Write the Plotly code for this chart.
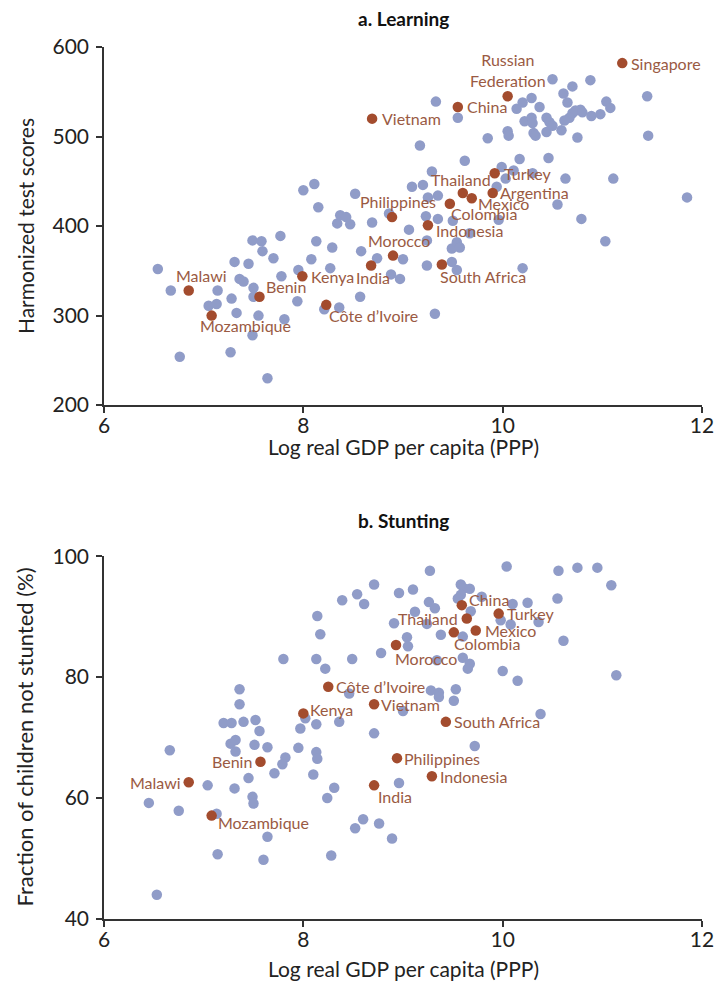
import plotly.graph_objects as go

# ---------------- Data: panel a (Learning) ----------------
learn_gray_x = [6.54, 6.67, 6.76, 7.05, 7.13, 7.14, 7.27, 7.28, 7.31, 7.33,
                7.36, 7.40, 7.45, 7.49, 7.49, 7.58, 7.50, 7.50, 7.55, 7.59,
                7.64, 7.70, 7.77, 7.78, 7.81, 7.94, 7.95, 8.00, 8.11, 8.08,
                8.13, 8.15, 8.21, 8.36, 8.27, 8.29, 8.34, 8.37, 8.43, 8.47,
                8.52, 8.57, 8.58, 8.69, 8.74, 8.86, 8.88, 8.97, 9.00,
                9.06, 9.23, 9.35, 9.24, 9.24, 9.32, 9.49, 9.54, 9.57, 9.49,
                9.54, 9.67, 9.96, 10.20, 10.55, 10.79, 11.03,
                9.09, 9.20, 9.25, 9.35, 9.29, 9.17, 9.33, 9.55, 9.62, 9.85,
                10.05, 10.06, 10.17, 10.46, 10.63, 11.11, 10.75, 10.31, 10.33, 10.44,
                10.59, 10.14, 10.20, 10.29, 10.37, 10.22, 10.29, 10.30, 10.44, 10.47,
                10.50, 10.50, 10.70, 10.88, 10.61, 10.65, 10.73, 10.78, 10.70, 10.67,
                10.62, 10.80, 10.89, 10.98, 11.04, 11.08, 11.45, 11.46, 11.85, 9.99,
                10.11, 10.03, 10.30, 9.94, 9.50]
learn_gray_y = [352, 328, 254, 311, 313, 328, 259, 319, 360, 303,
                341, 338, 358, 278, 384, 383, 321, 331, 300, 372,
                230, 364, 389, 344, 296, 316, 351, 440, 447, 363,
                383, 421, 307, 309, 353, 376, 403, 412, 410, 402,
                436, 321, 372, 404, 364, 414, 346, 341, 363,
                396, 411, 408, 384, 356, 302, 375, 382, 376, 360,
                351, 392, 407, 353, 424, 408, 383,
                444, 446, 432, 434, 461, 490, 539, 521, 473, 498,
                506, 501, 475, 476, 453, 453, 499, 504, 501, 505,
                507, 531, 538, 543, 533, 517, 521, 515, 521, 516,
                512, 564, 556, 563, 548, 538, 529, 530, 526, 521,
                518, 527, 523, 525, 539, 532, 545, 501, 432, 466,
                462, 453, 459, 444, 406]

learn_names = ["Singapore", "Russian<br>Federation", "China", "Vietnam", "Turkey",
               "Thailand", "Argentina", "Mexico", "Colombia", "Philippines",
               "Indonesia", "Morocco", "India", "South Africa", "Kenya",
               "Malawi", "Benin", "Mozambique", "Côte d’Ivoire"]
learn_x = [11.20, 10.05, 9.55, 8.69, 9.92, 9.60, 9.90, 9.69, 9.47, 8.89,
           9.25, 8.90, 8.68, 9.39, 7.99, 6.85, 7.56, 7.08, 8.23]
learn_y = [582, 545, 533, 520, 459, 437, 437, 431, 425, 410,
           401, 367, 356, 357, 344, 328, 321, 300, 312]

# ---------------- Data: panel b (Stunting) ----------------
stunt_gray_x = [7.36, 7.36, 7.20, 7.28, 7.40, 7.52, 7.56, 8.02, 8.13, 7.97,
                8.36, 8.71, 6.66, 7.27, 7.32, 7.32, 7.51, 7.64, 7.95, 8.13,
                8.14, 7.82, 7.79, 7.71, 8.10, 7.45, 7.04, 7.31, 7.49, 7.50,
                8.31, 8.24, 8.96, 6.45, 6.75, 7.13, 8.60, 8.52, 8.76, 8.89,
                7.64, 7.14, 7.60, 8.28, 6.53, 10.38, 9.72, 9.00,
                8.71, 8.39, 8.54, 8.61, 8.96, 8.14, 8.17, 8.91, 7.80, 8.13,
                8.22, 8.49, 8.78, 8.46,
                9.27, 10.04, 10.56, 10.75, 10.95, 11.09, 10.55, 9.10, 9.26, 9.32,
                9.12, 9.58, 9.61, 9.67, 9.58, 9.55, 9.79, 9.68, 10.10, 10.25,
                10.36, 9.98, 10.08, 9.24, 9.38, 9.60, 10.61, 9.04, 9.05, 9.34,
                9.60, 9.67, 9.65, 10.00, 10.15, 11.14, 9.28, 9.36, 9.36, 9.53,
                9.51]
stunt_gray_y = [78.0, 75.5, 72.4, 72.4, 72.6, 72.9, 71.1, 73.2, 72.2, 71.5,
                72.6, 70.7, 67.9, 69.0, 69.6, 67.7, 68.8, 68.4, 68.3, 67.6,
                66.5, 66.7, 65.6, 64.1, 63.9, 63.3, 62.1, 61.6, 60.2, 59.1,
                61.7, 60.0, 62.5, 59.2, 57.9, 57.4, 56.5, 55.0, 55.8, 53.3,
                53.6, 50.7, 49.8, 50.5, 44.0, 73.9, 68.6, 74.4,
                95.3, 92.7, 93.7, 92.1, 93.9, 90.1, 87.1, 88.9, 83.0, 83.0,
                81.4, 83.0, 84.0, 77.3,
                97.6, 98.3, 97.6, 98.1, 98.1, 95.2, 93.0, 94.5, 92.4, 91.4,
                90.8, 95.3, 94.7, 94.6, 93.6, 93.0, 93.3, 90.9, 92.1, 92.3,
                89.1, 89.4, 88.7, 88.8, 87.0, 86.7, 86.0, 86.6, 85.1, 82.8,
                83.2, 82.2, 81.4, 81.0, 79.4, 80.3, 77.8, 77.4, 76.7, 78.0,
                76.1]

stunt_names = ["China", "Thailand", "Turkey", "Mexico", "Colombia", "Morocco",
               "Côte d’Ivoire", "Kenya", "Vietnam", "South Africa", "Philippines",
               "Indonesia", "India", "Benin", "Malawi", "Mozambique"]
stunt_x = [9.59, 9.64, 9.96, 9.73, 9.51, 8.93, 8.25, 8.00, 8.71, 9.43, 8.94,
           9.29, 8.71, 7.57, 6.85, 7.08]
stunt_y = [91.9, 89.7, 90.5, 87.7, 87.4, 85.3, 78.4, 74.0, 75.5, 72.6, 66.6,
           63.6, 62.1, 66.0, 62.6, 57.1]

x_ticks = [6, 8, 10, 12]
learn_ticks = [200, 300, 400, 500, 600]
stunt_ticks = [40, 60, 80, 100]

# ---------------- Styling ----------------
FONT = "Lato"
GRAY = "#909cc8"
BROWN = "#a34c2e"
LABEL = "#9a5a43"
AXIS = "#333333"
LBL_SIZE = 16

# label placement: (xanchor, yanchor, xshift, yshift)
learn_pos = {
    "Singapore": ("left", "middle", 7, 0),
    "Russian<br>Federation": ("center", "bottom", 0, 4),
    "China": ("left", "middle", 7, 0),
    "Vietnam": ("left", "middle", 8, 0),
    "Turkey": ("left", "middle", 7, 0),
    "Thailand": ("center", "bottom", -2, 2),
    "Argentina": ("left", "middle", 5, 0),
    "Mexico": ("left", "middle", 4, -5),
    "Colombia": ("left", "top", -1, 2),
    "Philippines": ("center", "bottom", 6, 4),
    "Indonesia": ("left", "middle", 6, -5),
    "Morocco": ("center", "bottom", 6, 4),
    "India": ("center", "top", 2, -1),
    "South Africa": ("left", "top", -4, 0),
    "Kenya": ("left", "middle", 7, 0),
    "Malawi": ("center", "bottom", 13, 4),
    "Benin": ("left", "bottom", 5, -1),
    "Mozambique": ("left", "top", -14, 2),
    "Côte d’Ivoire": ("left", "top", 1, 1),
}
stunt_pos = {
    "China": ("left", "middle", 5, 6),
    "Thailand": ("right", "middle", -7, 0),
    "Turkey": ("left", "middle", 6, 0),
    "Mexico": ("left", "middle", 7, 0),
    "Colombia": ("left", "top", -2, 0),
    "Morocco": ("left", "top", -3, -2),
    "Côte d’Ivoire": ("left", "middle", 6, 0),
    "Kenya": ("left", "middle", 5, 4),
    "Vietnam": ("left", "middle", 5, 0),
    "South Africa": ("left", "middle", 6, 0),
    "Philippines": ("left", "middle", 5, 0),
    "Indonesia": ("left", "middle", 6, 0),
    "India": ("left", "top", 2, 0),
    "Benin": ("right", "middle", -6, 0),
    "Malawi": ("right", "middle", -6, 0),
    "Mozambique": ("left", "middle", 4, -7),
}

fig = go.Figure()

def add_panel(gx, gy, hx, hy, xa, ya):
    fig.add_trace(go.Scatter(x=gx, y=gy, mode="markers", xaxis=xa, yaxis=ya,
                             marker=dict(color=GRAY, size=10.5, line=dict(width=0)),
                             cliponaxis=False, hoverinfo="skip", showlegend=False))
    fig.add_trace(go.Scatter(x=hx, y=hy, mode="markers", xaxis=xa, yaxis=ya,
                             marker=dict(color=BROWN, size=10.5, line=dict(width=0)),
                             cliponaxis=False, hoverinfo="skip", showlegend=False))

add_panel(learn_gray_x, learn_gray_y, learn_x, learn_y, "x", "y")
add_panel(stunt_gray_x, stunt_gray_y, stunt_x, stunt_y, "x2", "y2")

annotations = []

def add_labels(names, xs, ys, pos, xref, yref):
    for n, xv, yv in zip(names, xs, ys):
        xa, yan, dx, dy = pos[n]
        annotations.append(dict(x=xv, y=yv, xref=xref, yref=yref, text=n,
                                showarrow=False, xanchor=xa, yanchor=yan,
                                xshift=dx, yshift=dy, align="center",
                                font=dict(family=FONT, size=LBL_SIZE, color=LABEL)))

add_labels(learn_names, learn_x, learn_y, learn_pos, "x", "y")
add_labels(stunt_names, stunt_x, stunt_y, stunt_pos, "x2", "y2")

# panel titles
for txt, xr, yr, dy in [("a. Learning", "x domain", "y domain", 15),
                        ("b. Stunting", "x2 domain", "y2 domain", 22)]:
    annotations.append(dict(x=0.5, y=1, xref=xr, yref=yr, text="<b>" + txt + "</b>",
                            showarrow=False, xanchor="center", yanchor="bottom",
                            yshift=dy, font=dict(family=FONT, size=19, color="#111")))

# axis titles
for xr, yr, dy in [("x domain", "y domain", -27), ("x2 domain", "y2 domain", -35)]:
    annotations.append(dict(x=0.5, y=0, xref=xr, yref=yr,
                            text="Log real GDP per capita (PPP)", showarrow=False,
                            xanchor="center", yanchor="top", yshift=dy,
                            font=dict(family=FONT, size=21, color="#222")))
annotations.append(dict(x=0, y=0.5, xref="x domain", yref="y domain",
                        text="Harmonized test scores", textangle=-90, showarrow=False,
                        xanchor="center", yanchor="middle", xshift=-79,
                        font=dict(family=FONT, size=21, color="#222")))
annotations.append(dict(x=0, y=0.5, xref="x2 domain", yref="y2 domain",
                        text="Fraction of children not stunted (%)", textangle=-90,
                        showarrow=False, xanchor="center", yanchor="middle", xshift=-79,
                        font=dict(family=FONT, size=22, color="#222")))

axis_common = dict(showline=True, linecolor=AXIS, linewidth=1.5, ticks="outside",
                   ticklen=6, tickwidth=1.5, tickcolor=AXIS, showgrid=False,
                   zeroline=False, tickfont=dict(family=FONT, size=21, color="#222"))
xaxis_extra = dict(ticklabelstandoff=-5)
yaxis_extra = dict(ticklabelstandoff=3)

# the page body adds an 8px offset, so the figure is sized to fit the window
fig.update_layout(
    width=718, height=986,
    margin=dict(l=95.5, r=14.3, t=38.7, b=75),
    paper_bgcolor="white", plot_bgcolor="white",
    font=dict(family=FONT),
    xaxis=dict(domain=[0, 1], anchor="y", range=[6, 12], tickvals=x_ticks,
               **axis_common, **xaxis_extra),
    yaxis=dict(domain=[0.5893, 1], anchor="x", range=[200, 600], tickvals=learn_ticks,
               **axis_common, **yaxis_extra),
    xaxis2=dict(domain=[0, 1], anchor="y2", range=[6, 12], tickvals=x_ticks,
                **axis_common, **xaxis_extra),
    yaxis2=dict(domain=[0, 0.4161], anchor="x2", range=[40, 100], tickvals=stunt_ticks,
                **axis_common, **yaxis_extra),
    annotations=annotations,
)

fig.write_html("out.html")
